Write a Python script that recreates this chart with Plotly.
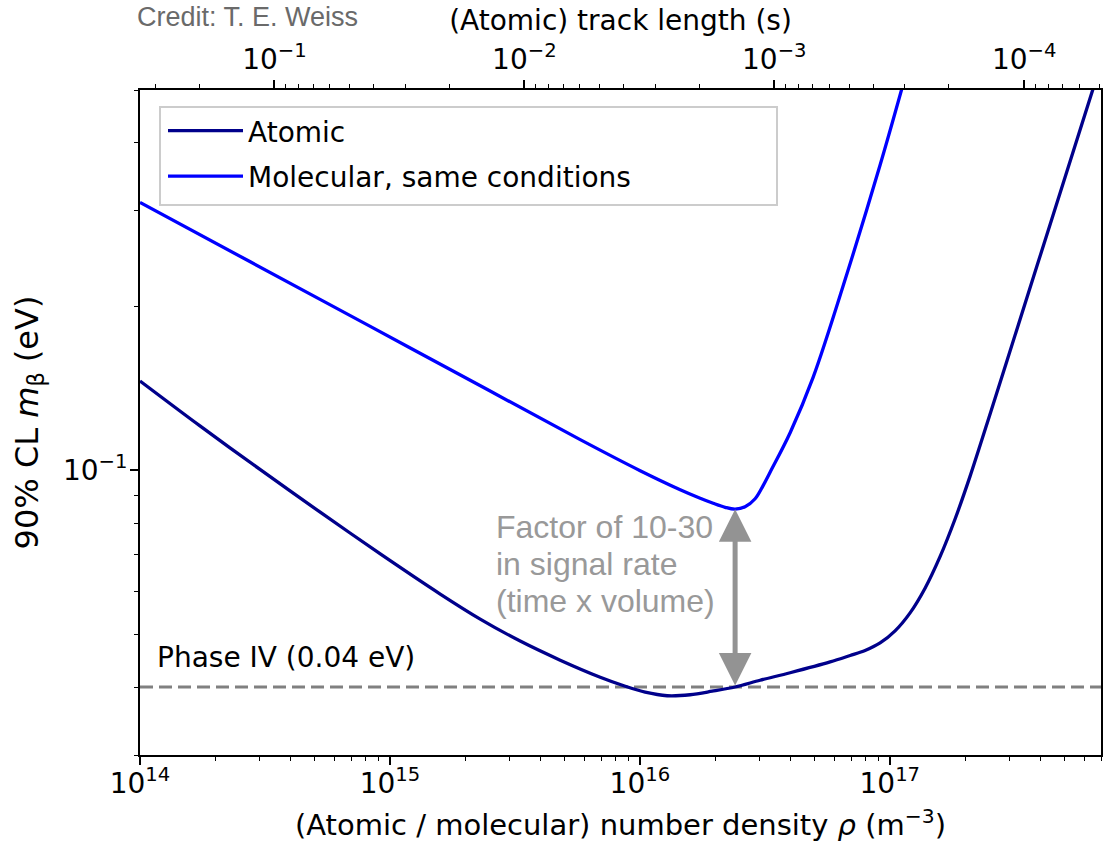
import numpy as np
import plotly.graph_objects as go

# ---------------- data ----------------
atomic_density = [1.0e14, 1.743e14, 3.03e14, 5.26e14, 9.15e14, 1.589e15, 2.297e15,
                  3.32e15, 4.80e15, 6.94e15, 8.74e15, 1.050e16, 1.286e16, 1.589e16,
                  1.946e16, 2.405e16, 3.028e16, 3.993e16, 5.771e16, 6.94e16, 7.965e16,
                  9.146e16, 1.050e17, 1.2057e17, 1.384e17, 1.589e17, 1.825e17, 2.096e17,
                  2.531e17, 3.32e17, 4.50e17, 6.505e17]
atomic_mbeta = [0.1460, 0.1206, 0.1003, 0.0838, 0.07025, 0.05928, 0.05332,
                0.04858, 0.04481, 0.04169, 0.04013, 0.03913, 0.03855, 0.03871,
                0.03929, 0.04000, 0.04116, 0.04249, 0.04448, 0.04571, 0.04669,
                0.04819, 0.05072, 0.05473, 0.06075, 0.06942, 0.08142, 0.09761,
                0.1278, 0.1894, 0.2944, 0.5024]

molecular_density = [1.0e14, 2.762e14, 8.34e14, 2.496e15, 5.771e15, 1.003e16, 1.450e16,
                     1.743e16, 1.965e16, 2.194e16, 2.405e16, 2.637e16, 2.892e16, 3.113e16,
                     3.32e16, 3.993e16, 4.934e16, 6.73e16, 9.146e16, 1.117e17]
molecular_mbeta = [0.3108, 0.2417, 0.1839, 0.1402, 0.1139, 0.09987, 0.09214,
                   0.08888, 0.08701, 0.08554, 0.08489, 0.08574, 0.08870, 0.09379,
                   0.09924, 0.1173, 0.1482, 0.2293, 0.3640, 0.5024]

series_names = ["Atomic", "Molecular, same conditions"]
phase_iv_mbeta = 0.04
phase_iv_label = "Phase IV (0.04 eV)"
note_lines = ["Factor of 10-30", "in signal rate", "(time x volume)"]
credit = "Credit: T. E. Weiss"
track_length_times_density = 3.45e13   # (atomic) track length [s] x density [m^-3]

density_range = [1e14, 7.0e17]
mbeta_range = [0.03, 0.5]

x_tick_vals = [1e14, 1e15, 1e16, 1e17]
x_tick_text = ["10<sup>14</sup>", "10<sup>15</sup>", "10<sup>16</sup>", "10<sup>17</sup>"]
y_tick_vals = [0.1]
y_tick_text = ["10<sup>\u22121</sup>"]
top_tick_vals = [1e-1, 1e-2, 1e-3, 1e-4]
top_tick_text = ["10<sup>\u22121</sup>", "10<sup>\u22122</sup>",
                 "10<sup>\u22123</sup>", "10<sup>\u22124</sup>"]

# ---------------- styling ----------------
ATOMIC_COLOR = "#00008B"
MOLECULAR_COLOR = "#0000FF"
GRAY = "#808080"
NOTE_GRAY = "#999999"
FONT = "DejaVu Sans"
FS = 28

W, H = 1105, 852
ML, MR, MT, MB = 140, 4, 90, 97
PW, PH = W - ML - MR, H - MT - MB


def px_x(px):
    return (px - ML) / PW


def px_y(py):
    return (H - MB - py) / PH


def minor_ticks(lo, hi):
    vals = []
    for e in range(int(np.floor(np.log10(lo))) - 1, int(np.ceil(np.log10(hi))) + 1):
        for m in range(2, 10):
            v = m * 10.0 ** e
            if lo <= v <= hi:
                vals.append(v)
    return vals


fig = go.Figure()

# Phase IV reference line
fig.add_trace(go.Scatter(x=density_range, y=[phase_iv_mbeta] * 2, mode="lines",
                         line=dict(color=GRAY, width=3, dash="13px,6px"),
                         showlegend=False, hoverinfo="skip"))

fig.add_trace(go.Scatter(x=atomic_density, y=atomic_mbeta, mode="lines",
                         name=series_names[0], legendgroup="a",
                         line=dict(color=ATOMIC_COLOR, width=3.3, shape="spline", smoothing=0.9)))
fig.add_trace(go.Scatter(x=molecular_density, y=molecular_mbeta, mode="lines",
                         name=series_names[1], legendgroup="b",
                         line=dict(color=MOLECULAR_COLOR, width=3.3, shape="spline", smoothing=1.0)))

# invisible trace that carries the top (track length) axis
track_length = [track_length_times_density / d for d in atomic_density]
fig.add_trace(go.Scatter(x=track_length, y=atomic_mbeta, xaxis="x2", mode="lines",
                         line=dict(width=0), opacity=0, showlegend=False, hoverinfo="skip"))

# arrow between molecular minimum and Phase IV line
i_min = int(np.argmin(molecular_mbeta))
arrow_x = molecular_density[i_min]
fig.add_annotation(x=np.log10(arrow_x), y=np.log10(molecular_mbeta[i_min]),
                   ax=np.log10(arrow_x), ay=np.log10(phase_iv_mbeta),
                   xref="x", yref="y", axref="x", ayref="y", text="",
                   showarrow=True, arrowhead=2, startarrowhead=2, arrowside="end+start",
                   arrowsize=1.3, startarrowsize=1.3, arrowwidth=5, arrowcolor="#939393",
                   standoff=0, startstandoff=0)

for line, cy in zip(note_lines, [527, 564, 601]):
    fig.add_annotation(x=px_x(494), y=px_y(cy), xref="paper", yref="paper",
                       xanchor="left", yanchor="middle", align="left", showarrow=False,
                       text=line, font=dict(family="Liberation Sans", size=32, color=NOTE_GRAY))

fig.add_annotation(x=px_x(155), y=px_y(657), xref="paper", yref="paper",
                   xanchor="left", yanchor="middle", showarrow=False, text=phase_iv_label,
                   font=dict(family=FONT, size=FS, color="black"))

fig.add_annotation(x=px_x(135), y=px_y(17), xref="paper", yref="paper",
                   xanchor="left", yanchor="middle", showarrow=False, text=credit,
                   font=dict(family="Liberation Sans", size=27, color="#6a6a6a"))

# legend frame (light-grey box as in the reference)
fig.add_shape(type="rect", xref="paper", yref="paper",
              x0=px_x(160), x1=px_x(777), y0=px_y(205), y1=px_y(107),
              line=dict(color="#cccccc", width=2), fillcolor="rgba(255,255,255,0.8)",
              layer="above")

axis_common = dict(showline=True, linecolor="black", linewidth=1.8, ticks="outside",
                   tickcolor="black", tickwidth=1.6, ticklen=8, showgrid=False, zeroline=False,
                   automargin=False, tickfont=dict(family=FONT, size=FS, color="black"))
minor_common = dict(ticks="outside", ticklen=4.5, tickwidth=1.2, tickcolor="black")

fig.update_layout(
    width=W, height=H,
    margin=dict(l=ML, r=MR, t=MT, b=MB),
    paper_bgcolor="white", plot_bgcolor="white",
    font=dict(family=FONT, size=FS, color="black"),
    xaxis=dict(type="log", range=[np.log10(density_range[0]), np.log10(density_range[1])],
               tickvals=x_tick_vals, ticktext=x_tick_text, mirror=True, ticklabelstandoff=-6,
               minor=dict(tickvals=minor_ticks(*density_range), **minor_common),
               title=dict(text="(Atomic / molecular) number density <i>\u03c1</i> (m<sup>\u22123</sup>)",
                          font=dict(family=FONT, size=29), standoff=16),
               **axis_common),
    xaxis2=dict(type="log", overlaying="x", side="top", anchor="y",
                range=[np.log10(track_length_times_density / density_range[0]),
                       np.log10(track_length_times_density / density_range[1])],
                tickvals=top_tick_vals, ticktext=top_tick_text,
                minor=dict(tickvals=minor_ticks(track_length_times_density / density_range[1],
                                                track_length_times_density / density_range[0]),
                           **minor_common),
                title=dict(text="(Atomic) track length (s)", font=dict(family=FONT, size=FS),
                           standoff=0),
                **axis_common),
    yaxis=dict(type="log", range=[np.log10(mbeta_range[0]), np.log10(mbeta_range[1])],
               tickvals=y_tick_vals, ticktext=y_tick_text, mirror=True, ticklabelstandoff=-3,
               minor=dict(tickvals=minor_ticks(*mbeta_range), **minor_common),
               title=dict(text="90% CL <i>m</i><sub>\u03b2</sub> (eV)",
                          font=dict(family=FONT, size=32), standoff=15),
               **axis_common),
    legend=dict(x=px_x(163), y=px_y(106), xanchor="left", yanchor="top",
                bgcolor="rgba(0,0,0,0)", borderwidth=0,
                font=dict(family=FONT, size=FS), tracegroupgap=6, traceorder="grouped",
                itemwidth=75),
)

fig.write_html("out.html", config={"displayModeBar": False},
               post_script="document.body.style.margin='0px';")
